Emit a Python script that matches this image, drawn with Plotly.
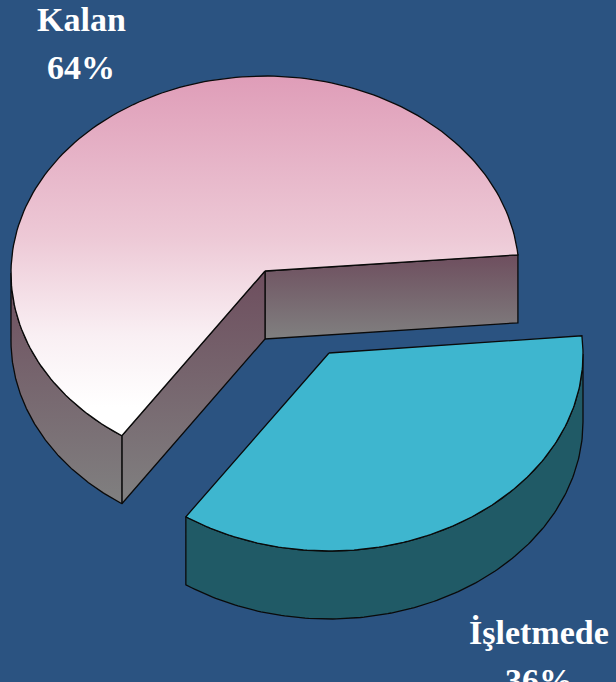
import numpy as np
import plotly.graph_objects as go

labels = ["Kalan", "İşletmede"]
values = [64, 36]
top_colors = [
    [[0, "#df9db8"], [0.45, "#edc9d6"], [0.72, "#f9eff3"], [0.92, "#ffffff"], [1, "#ffffff"]],
    [[0, "#3eb6cf"], [1, "#3eb6cf"]],
]
wall_colors = [[[0, "#6e4e5e"], [1, "#808080"]], [[0, "#205a66"], [1, "#205a66"]]]

BG = "#2b5381"
W, H = 616, 682
RX, RY, DEPTH = 254, 197, 68
START = 5.3
CENTERS = [(265, 271), (329, 353)]
ARC_DROPS = [2, 1]  # the rim ellipse sits slightly below the wedge apex
LABEL_POS = [(81, 32, 80), (539, 645, 693)]
FONT = "Liberation Serif"
FS = 34


def arc(c, drop, a0, a1, n=160):
    t = np.radians(np.linspace(a0, a1, n))
    return c[0] + RX * np.cos(t), c[1] + drop - RY * np.sin(t)


def poly(x, y, scale, y0=None, y1=None):
    x = np.append(x, x[0])
    y = np.append(y, y[0])
    if y0 is None:
        y0, y1 = y.min(), y.max()
    return go.Scatter(
        x=x, y=y, mode="lines", fill="toself",
        line=dict(color="#0a0a0a", width=1.3),
        fillgradient=dict(type="vertical", colorscale=scale, start=y0, stop=y1),
        hoverinfo="skip", showlegend=False,
    )


fig = go.Figure()
total = sum(values)
a = START
for i, v in enumerate(values):
    a0, a1 = a, a + 360 * v / total
    a = a1
    c = CENTERS[i]
    drop = ARC_DROPS[i]
    ax, ay = arc(c, drop, a0, a1)
    # straight side walls of the larger wedge, visible through the gap
    if i == 0:
        for k in (0, -1):
            px = np.array([c[0], ax[k], ax[k], c[0]])
            py = np.array([c[1], ay[k], ay[k] + DEPTH, c[1] + DEPTH])
            fig.add_trace(poly(px, py, wall_colors[i]))
    # outer curved wall: only the front half of the rim shows
    b0, b1 = max(a0, 180), min(a1, 360)
    if b1 > b0:
        wx, wy = arc(c, drop, b0, b1)
        fig.add_trace(poly(np.r_[wx, wx[::-1]], np.r_[wy, wy[::-1] + DEPTH], wall_colors[i]))
    # top face
    fig.add_trace(poly(np.r_[c[0], ax], np.r_[c[1], ay], top_colors[i]))

annotations = []
for i, lab in enumerate(labels):
    x, y1, y2 = LABEL_POS[i]
    for txt, yy in ((lab, y1), (f"{values[i]}%", y2)):
        annotations.append(dict(
            x=x, y=min(yy - FS * 0.36, H - 1), text=f"<b>{txt}</b>", showarrow=False,
            xanchor="center", yanchor="middle", xref="x", yref="y",
            font=dict(family=FONT, size=FS, color="#ffffff"),
        ))

fig.update_layout(
    width=W, height=H, margin=dict(l=0, r=0, t=0, b=0),
    paper_bgcolor=BG, plot_bgcolor=BG, showlegend=False,
    xaxis=dict(range=[0, W], visible=False, fixedrange=True),
    yaxis=dict(range=[H, 0], visible=False, fixedrange=True),
    annotations=annotations,
)
fig.write_html(
    "out.html",
    config={"displayModeBar": False},
    post_script="document.body.style.margin='0';document.body.style.overflow='hidden';document.documentElement.style.background='%s';" % BG,
)
